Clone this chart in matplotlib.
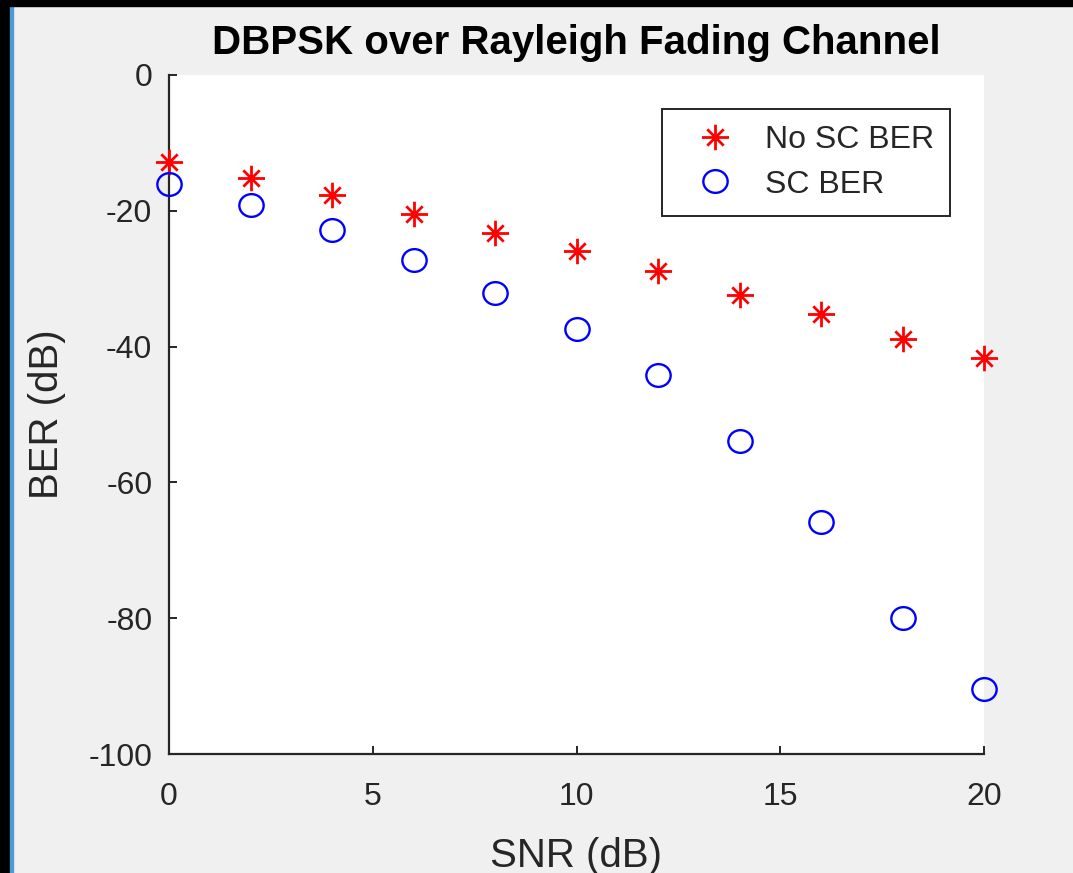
import numpy as np
import matplotlib
matplotlib.use("Agg")
import matplotlib.pyplot as plt
from matplotlib.path import Path
from matplotlib.patches import Rectangle

# ---- data ----
snr_db = [0, 2, 4, 6, 8, 10, 12, 14, 16, 18, 20]
ber_no_sc = [-12.8, -15.1, -17.6, -20.4, -23.2, -25.9, -28.9, -32.4, -35.2, -38.9, -41.7]
ber_sc = [-16.0, -19.2, -22.9, -27.3, -32.1, -37.4, -44.2, -53.9, -65.9, -80.0, -90.5]
labels = ["No SC BER", "SC BER"]
title = "DBPSK over Rayleigh Fading Channel"
xlabel = "SNR (dB)"
ylabel = "BER (dB)"
xticks = [0, 5, 10, 15, 20]
yticks = [0, -20, -40, -60, -80, -100]

plt.rcParams['font.family'] = ['Liberation Sans', 'DejaVu Sans']
plt.rcParams['axes.unicode_minus'] = False

W, H = 1073, 873
fig = plt.figure(figsize=(W / 100, H / 100), dpi=100)
fig.patch.set_facecolor('#f0f0f0')

# screenshot frame (black border + thin blue line)
fig.patches.append(Rectangle((0, 0), 10 / W, 1, transform=fig.transFigure, color='black', zorder=0))
fig.patches.append(Rectangle((10 / W, 0), 2.5 / W, 1 - 6 / H, transform=fig.transFigure, color='#4b9bd0', zorder=0))
fig.patches.append(Rectangle((0, 1 - 6 / H), 1, 6 / H, transform=fig.transFigure, color='black', zorder=0))

ax = fig.add_axes([169 / W, 1 - 754 / H, (984 - 169) / W, (754 - 75) / H])
ax.set_facecolor('white')

# MATLAB-like asterisk marker (slightly wide, like the screenshot)
a = 0.64
verts = [(-1.06, 0), (1.06, 0), (0, -1), (0, 1), (-a, -a), (a, a), (-a, a), (a, -a)]
codes = [Path.MOVETO, Path.LINETO] * 4
asterisk = Path(verts, codes)

# slightly wide circle (screenshot is horizontally stretched)
uc = Path.unit_circle()
ellipse = Path(uc.vertices * np.array([1.07, 1.0]), uc.codes)

ax.plot(snr_db, ber_no_sc, linestyle='none', marker=asterisk, markersize=19.5,
        markeredgecolor='red', markerfacecolor='none', markeredgewidth=2.0,
        clip_on=False, label=labels[0], zorder=3)
ax.plot(snr_db, ber_sc, linestyle='none', marker=ellipse, markersize=17.5,
        markeredgecolor='blue', markerfacecolor='none', markeredgewidth=1.7,
        clip_on=False, label=labels[1], zorder=3)

ax.set_xlim(0, 20)
ax.set_ylim(-100, 0)
ax.set_xticks(xticks)
ax.set_yticks(yticks)

for s in ['top', 'right']:
    ax.spines[s].set_visible(False)
for s in ['left', 'bottom']:
    ax.spines[s].set_color('#262626')
    ax.spines[s].set_linewidth(1.6)

ax.tick_params(direction='in', length=6, width=1.4, color='#262626',
               labelcolor='#262626', labelsize=23)
ax.tick_params(axis='x', pad=20)
ax.tick_params(axis='y', pad=12)

ax.set_xlabel(xlabel, fontsize=29, color='#262626', labelpad=18)
ax.set_ylabel(ylabel, fontsize=29, color='#262626', labelpad=16)
ax.set_title(title, fontsize=29, fontweight='bold', color='black', pad=15)

leg = ax.legend(loc='upper right', bbox_to_anchor=(0.958, 0.950), borderaxespad=0,
                fontsize=23, frameon=True, fancybox=False, handlelength=2.3,
                handletextpad=0.4, borderpad=0.5, labelspacing=0.46)
frame = leg.get_frame()
frame.set_edgecolor('#262626')
frame.set_linewidth(1.4)
frame.set_facecolor('white')
frame.set_alpha(1)
for t in leg.get_texts():
    t.set_color('#262626')

fig.savefig('out.png', dpi=100, facecolor=fig.get_facecolor())
